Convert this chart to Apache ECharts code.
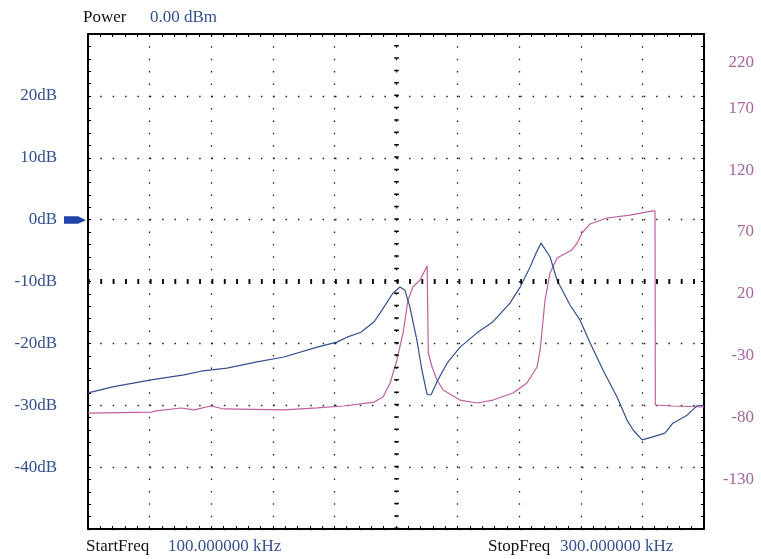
<!DOCTYPE html>
<html>
<head>
<meta charset="utf-8">
<script src="https://cdn.jsdelivr.net/npm/echarts@6/dist/echarts.min.js"></script>
<style>
html,body{margin:0;padding:0;background:#fff;}
#c{width:761px;height:559px;}
</style>
</head>
<body>
<div id="c"></div>
<script>
// ---- data ----
var startFreq = 100; // kHz
var stopFreq = 300;  // kHz
var powerDbm = 0.00;

var magFreq = [100,108.4,120.5,131.2,136.7,145.1,154.9,163.6,174.4,180.8,184.1,188.6,192.9,194.8,199.0,201.3,202.9,204.5,206.8,208.4,210.1,211.4,213.6,216.6,220.8,226.3,231.5,237.0,240.3,243.5,245.5,247.1,250.0,252.3,256.5,259.7,263.0,267.2,271.8,275.0,277.0,279.9,283.4,287.3,289.9,294.5,297.7,300];
var magDb   = [-28.0,-27.0,-25.9,-25.1,-24.5,-24.0,-23.0,-22.2,-20.6,-19.8,-19.0,-18.2,-16.5,-15.1,-11.9,-10.9,-11.4,-14.1,-19.5,-24.3,-28.3,-28.3,-25.9,-23.2,-20.6,-18.3,-16.5,-13.5,-10.9,-7.7,-5.4,-3.8,-6.0,-9.8,-13.8,-16.2,-19.9,-24.3,-28.7,-32.4,-34.0,-35.6,-35.1,-34.5,-32.9,-31.6,-30.1,-30.0];

var phaseFreq = [100,120.5,122.1,130.2,134.4,139.9,144.2,163.6,174.4,183.1,192.9,195.8,198.1,200.3,202.3,203.9,205.5,207.8,210.1,210.5,211.7,213.3,215.3,220.8,226.3,231.5,238.0,242.5,245.8,246.8,248.4,250.0,252.3,257.1,258.8,260.4,263.0,268.5,276.0,283.4,284.1,284.2,289.9,299.7,300];
var phaseDeg  = [-76.3,-75.5,-74.6,-72.2,-73.8,-70.6,-73.0,-73.8,-72.2,-70.6,-67.4,-63.3,-52.0,-33.4,-11.6,15.1,25.6,31.2,42.5,-27.8,-39.1,-49.6,-57.7,-65.8,-68.2,-65.8,-60.1,-52.0,-39.1,-25.4,15.1,36.9,49.0,55.5,61.1,69.2,76.5,81.3,83.7,87.0,87.0,-69.8,-70.6,-71.4,-71.4];

var dbTicks = [-40,-30,-20,-10,0,10,20];
var phaseTicks = [-130,-80,-30,20,70,120,170,220];

// ---- chart ----
var FONT = "'Liberation Serif', 'DejaVu Serif', serif";
var FS = 17;
var BLUE = '#34508f';
var PINK = '#bf5fa0';
var dotStyle = {color:'#222', width:1.3, type:[1.5,10.85]};

function zip(a,b){ var r=[]; for(var i=0;i<a.length;i++) r.push([a[i],b[i]]); return r; }
function fmtFreq(v){ return v.toFixed(6)+' kHz'; }

var chart = echarts.init(document.getElementById('c'), null, {renderer:'canvas'});
var tickCommon = {show:true, inside:true, length:3, lineStyle:{color:'#000'}};
var minorCommon = {show:true, splitNumber:5, length:3, lineStyle:{color:'#000'}};
var option = {
  animation:false,
  backgroundColor:'#fff',
  grid:{left:88, right:57, top:34, bottom:30, containLabel:false},
  xAxis:[
    {type:'value', min:startFreq, max:stopFreq, interval:(stopFreq-startFreq)/10, position:'bottom',
     axisLine:{show:true, onZero:false, lineStyle:{color:'#000', width:2}},
     axisTick:tickCommon, minorTick:minorCommon,
     axisLabel:{show:false},
     splitLine:{show:true, lineStyle:dotStyle}},
    {type:'value', min:startFreq, max:stopFreq, interval:(stopFreq-startFreq)/10, position:'top',
     axisLine:{show:true, onZero:false, lineStyle:{color:'#000', width:2}},
     axisTick:tickCommon, minorTick:minorCommon,
     axisLabel:{show:false}, splitLine:{show:false}}
  ],
  yAxis:[
    {type:'value', min:-50, max:30, interval:10, position:'left',
     axisLine:{show:true, onZero:false, lineStyle:{color:'#000', width:2}},
     axisTick:tickCommon, minorTick:minorCommon,
     axisLabel:{show:true, margin:31, color:BLUE, fontFamily:FONT, fontSize:FS,
       customValues:dbTicks, formatter:function(v){return v+'dB';}},
     splitLine:{show:true, lineStyle:dotStyle}},
    {type:'value', min:-170, max:230, position:'right',
     axisLine:{show:false}, axisTick:{show:false}, splitLine:{show:false},
     axisLabel:{show:true, customValues:phaseTicks, align:'right', margin:50,
       color:'#a8649e', fontFamily:FONT, fontSize:FS,
       formatter:function(v){ return v===220 ? '{t|'+v+'}' : String(v); },
       rich:{t:{padding:[32,0,0,0], color:'#a8649e', fontFamily:FONT, fontSize:FS}}}},
    {type:'value', min:-50, max:30, interval:10, position:'right',
     axisLine:{show:true, onZero:false, lineStyle:{color:'#000', width:2}},
     axisTick:tickCommon, minorTick:minorCommon,
     axisLabel:{show:false}, splitLine:{show:false}}
  ],
  series:[
    {type:'line', name:'phase', xAxisIndex:0, yAxisIndex:1, data:zip(phaseFreq, phaseDeg),
     showSymbol:false, lineStyle:{color:PINK, width:1.2}, z:3},
    {type:'line', name:'mag', xAxisIndex:0, yAxisIndex:0, data:zip(magFreq, magDb),
     showSymbol:false, lineStyle:{color:BLUE, width:1.2}, z:4,
     markLine:{silent:true, symbol:['none','none'], label:{show:false}, animation:false,
       data:[
         {yAxis:-10, lineStyle:{color:'#000', width:5, type:[1.8,10.55]}},
         {xAxis:(startFreq+stopFreq)/2, lineStyle:{color:'#000', width:4.5, type:[1.5,10.875]}}
       ]}}
  ]
};
chart.setOption(option);

// 0 dB reference marker, placed through the axis scale
var p = chart.convertToPixel({xAxisIndex:0, yAxisIndex:0}, [startFreq, 0]);
var x0 = p[0], y0 = p[1];
var txt = function(l,t,s,c){ return {type:'text', left:l, top:t, style:{text:s, font:FS+'px '+FONT, fill:c}}; };
chart.setOption({graphic:[
  txt(83, 9, 'Power', '#111'),
  txt(150, 9, powerDbm.toFixed(2)+' dBm', BLUE),
  txt(86, 538, 'StartFreq', '#111'),
  txt(168, 538, fmtFreq(startFreq), BLUE),
  txt(488, 538, 'StopFreq', '#111'),
  txt(560, 538, fmtFreq(stopFreq), BLUE),
  {type:'polygon', shape:{points:[[x0-24,y0-3.5],[x0-10,y0-3.5],[x0-2,y0+0.5],[x0-10,y0+4],[x0-24,y0+4]]},
   style:{fill:'#1f45a8'}}
]});
</script>
</body>
</html>
